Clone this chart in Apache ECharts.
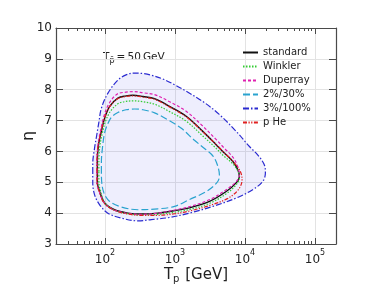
<!DOCTYPE html>
<html>
<head>
<meta charset="utf-8">
<script src="https://cdn.jsdelivr.net/npm/echarts@6/dist/echarts.min.js"></script>
<style>html,body{margin:0;padding:0;background:#fff}#c{width:374px;height:288px}</style>
</head>
<body>
<div id="c"></div>
<script>
// ---- data: [T_p (GeV), eta] along each closed contour ----
const standard = [[78,5.35],[78,5.7],[81,6.22],[89,6.65],[99,7.08],[117,7.46],[153,7.73],[200,7.8],[251,7.82],[350,7.78],[512,7.71],[837,7.46],[1450,7.14],[2500,6.65],[3880,6.22],[4820,6.0],[6700,5.68],[7900,5.41],[8340,5.19],[7480,4.98],[5400,4.7],[3120,4.38],[1610,4.17],[990,4.08],[570,4.0],[330,3.97],[213,4.0],[137,4.11],[99,4.33],[84,4.7],[78,5.0]];
const winkler = [[82,5.35],[82,5.7],[85,6.2],[92,6.6],[102,6.98],[120,7.3],[155,7.55],[200,7.62],[255,7.64],[350,7.61],[512,7.53],[840,7.29],[1450,6.98],[2500,6.5],[3880,6.1],[4820,5.88],[6700,5.6],[7950,5.36],[8350,5.15],[7550,4.93],[5500,4.64],[3150,4.32],[1620,4.12],[990,4.03],[570,3.96],[330,3.94],[213,3.98],[137,4.1],[100,4.33],[87,4.7],[82,5.0]];
const duperray = [[77,5.35],[77,5.7],[80,6.25],[87,6.7],[97,7.15],[115,7.56],[150,7.86],[200,7.92],[255,7.94],[350,7.9],[512,7.84],[840,7.61],[1450,7.3],[2500,6.82],[3900,6.38],[5000,6.12],[6800,5.8],[7900,5.5],[8300,5.22],[7500,5.02],[5400,4.76],[3150,4.44],[1620,4.21],[990,4.1],[570,4.0],[330,3.96],[213,3.99],[137,4.1],[99,4.32],[83,4.7],[77,5.0]];
const cut2_30 = [[89,5.3],[89,5.65],[92,6.1],[99,6.6],[110,6.9],[125,7.12],[153,7.26],[200,7.35],[265,7.375],[350,7.35],[512,7.25],[800,7.02],[1250,6.74],[1900,6.36],[2700,6.08],[3500,5.85],[4100,5.52],[4325,5.2],[3950,4.98],[2800,4.7],[1610,4.44],[990,4.22],[570,4.14],[296,4.11],[171,4.2],[117,4.38],[97,4.65],[90,5.0]];
const cut3_100 = [[67,5.3],[67,5.6],[71,6.1],[76,6.5],[82,6.95],[89,7.4],[110,7.88],[153,8.31],[200,8.48],[265,8.54],[360,8.52],[460,8.47],[700,8.33],[990,8.16],[1450,7.95],[2500,7.62],[4300,7.2],[7500,6.65],[11600,6.16],[15200,5.89],[18900,5.57],[19600,5.3],[18000,5.03],[12900,4.76],[7500,4.49],[3500,4.22],[1610,4.0],[840,3.86],[460,3.79],[300,3.75],[171,3.84],[110,4.0],[84,4.27],[71,4.6],[67,5.0]];
const pHe = [[77,5.35],[77,5.7],[80,6.2],[88,6.63],[98,7.06],[116,7.44],[152,7.71],[200,7.78],[250,7.8],[350,7.76],[512,7.69],[837,7.44],[1450,7.12],[2500,6.64],[3900,6.22],[5000,5.97],[7000,5.64],[8600,5.35],[9100,5.08],[8000,4.75],[5600,4.47],[3150,4.25],[1620,4.07],[990,3.98],[570,3.93],[330,3.93],[213,3.97],[137,4.09],[98,4.32],[83,4.7],[77,5.0]];
const xMajorTicks = [100,1000,10000,100000];
const xMinorTicks = [20,30,40,50,60,70,80,90,200,300,400,500,600,700,800,900,2000,3000,4000,5000,6000,7000,8000,9000,20000,30000,40000,50000,60000,70000,80000,90000];
const seriesNames = ['standard','Winkler','Duperray','2%/30%','3%/100%','p He'];

const FONT = 'DejaVu Sans';
const closed = a => a.concat([a[0]]);
const chart = echarts.init(document.getElementById('c'), null, {renderer:'canvas'});

const baseX = {type:'log', logBase:10, min:20, max:200000, gridIndex:0};
const axisLineStyle = {color:'#4a4a4a', width:1.2};

function lineSeries(name, data, color, type, width) {
  return {type:'line', name, data: closed(data), smooth:0.35, showSymbol:false, symbol:'none',
    lineStyle:{color, type, width: width||1.2}, itemStyle:{color, opacity:0}, z:3, silent:true};
}

chart.setOption({
  animation:false,
  backgroundColor:'#fff',
  grid:{left:56, top:28, width:280, height:216, containLabel:false, outerBoundsMode:'none'},
  xAxis:[
    Object.assign({}, baseX, {position:'bottom',
      axisLine:{show:true, lineStyle:axisLineStyle},
      axisTick:{show:true, inside:true, length:6, customValues:xMajorTicks, lineStyle:{color:'#4a4a4a', width:1}},
      axisLabel:{show:true, customValues:xMajorTicks, margin:5,
        formatter: v => '{b|10}{s|' + Math.round(Math.log10(v)) + '}',
        rich:{b:{fontFamily:FONT, fontSize:12, color:'#222'}, s:{fontFamily:FONT, fontSize:8, color:'#222', padding:[0,0,13,0]}}},
      splitLine:{show:true, lineStyle:{color:'#e3e3e3', width:1}},
      name:'{t|T}{p|p}{g| [GeV]}', nameLocation:'middle', nameGap:22, nameMoveOverlap:false,
      nameTextStyle:{rich:{t:{fontFamily:FONT, fontSize:15, color:'#222'}, p:{fontFamily:FONT, fontSize:10, color:'#222', padding:[8,1,0,0]}, g:{fontFamily:FONT, fontSize:15, color:'#222'}}}
    }),
    Object.assign({}, baseX, {position:'bottom',
      axisLine:{show:false}, axisLabel:{show:false}, splitLine:{show:false},
      axisTick:{show:true, inside:true, length:3, customValues:xMinorTicks, lineStyle:{color:'#4a4a4a', width:1}}}),
    Object.assign({}, baseX, {position:'top',
      axisLine:{show:true, lineStyle:axisLineStyle}, axisLabel:{show:false}, splitLine:{show:false},
      axisTick:{show:true, inside:true, length:6, customValues:xMajorTicks, lineStyle:{color:'#4a4a4a', width:1}}}),
    Object.assign({}, baseX, {position:'top',
      axisLine:{show:false}, axisLabel:{show:false}, splitLine:{show:false},
      axisTick:{show:true, inside:true, length:3, customValues:xMinorTicks, lineStyle:{color:'#4a4a4a', width:1}}})
  ],
  yAxis:[
    {type:'value', min:3, max:10, interval:1, position:'left',
      axisLine:{show:true, lineStyle:axisLineStyle},
      axisTick:{show:true, inside:true, length:7, lineStyle:{color:'#4a4a4a', width:1}},
      axisLabel:{fontFamily:FONT, fontSize:12, color:'#222', margin:4},
      splitLine:{show:true, lineStyle:{color:'#e3e3e3', width:1}},
      name:'η', nameLocation:'middle', nameGap:19, nameMoveOverlap:false, nameTextStyle:{fontFamily:FONT, fontSize:16, color:'#222'}},
    {type:'value', min:3, max:10, interval:1, position:'right',
      axisLine:{show:true, lineStyle:axisLineStyle},
      axisTick:{show:true, inside:true, length:7, lineStyle:{color:'#4a4a4a', width:1}},
      axisLabel:{show:false}, splitLine:{show:false}}
  ],
  legend:{orient:'vertical', left:242, top:47, padding:0, itemWidth:15, itemHeight:8, itemGap:3,
    selectedMode:false, data:seriesNames, itemStyle:{opacity:0},
    textStyle:{fontFamily:FONT, fontSize:10, color:'#222', lineHeight:11}},
  graphic:[{type:'text', left:103, top:52,
    style:{text:'{a|T}{b|p\u0304}{a|\u2009=\u200950\u2009GeV}',
      rich:{a:{fontFamily:FONT, fontSize:10.5, fill:'#222'}, b:{fontFamily:FONT, fontSize:8, fill:'#222', padding:[6,0,0,0]}}}}],
  series:[
    {type:'custom', name:'fill', data:[[100,5]], z:1, silent:true, clip:true,
      renderItem:(params, api) => ({type:'polygon',
        shape:{points: cut3_100.map(p => api.coord(p)), smooth:0.35},
        style:{fill:'rgba(90,90,235,0.10)'}})},
    lineSeries('standard', standard, '#111111', 'solid', 1.4),
    lineSeries('Winkler', winkler, '#33cc33', [1.5,1.5], 1.2),
    lineSeries('Duperray', duperray, '#e020b0', [3,2], 1.2),
    lineSeries('2%/30%', cut2_30, '#2aa3cf', [7,3], 1.2),
    lineSeries('3%/100%', cut3_100, '#2a2ad0', [6,2,1.5,2], 1.2),
    lineSeries('p He', pHe, '#e02020', [4,1.5,1.2,1.5,1.2,1.5], 1.2)
  ]
});
</script>
</body>
</html>
